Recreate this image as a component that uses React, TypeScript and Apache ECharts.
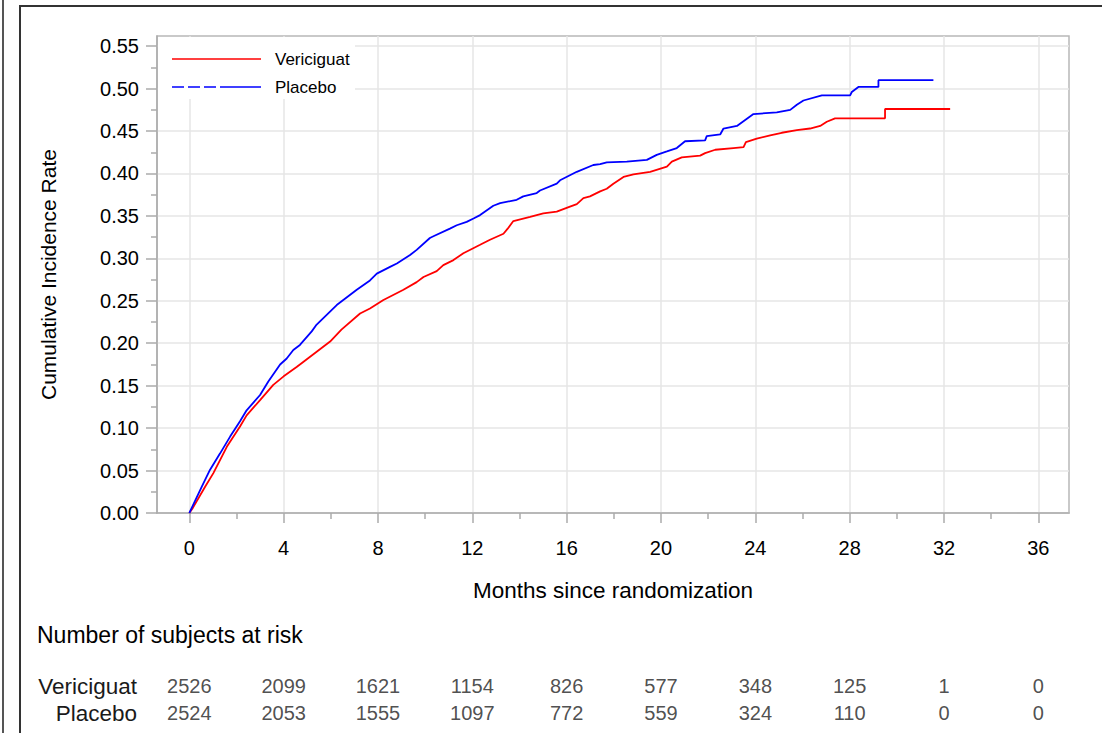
import React, { useEffect, useRef } from "react";
import * as echarts from "echarts";

const FONT = "'Liberation Sans', Arial, Helvetica, sans-serif";

// Axis ticks
const xTicks = [0, 4, 8, 12, 16, 20, 24, 28, 32, 36];
const xMinorTicks = [2, 6, 10, 14, 18, 22, 26, 30, 34];
const yTicks = [0, 0.05, 0.1, 0.15, 0.2, 0.25, 0.3, 0.35, 0.4, 0.45, 0.5, 0.55];
const yMinorTicks = [0.025, 0.075, 0.125, 0.175, 0.225, 0.275, 0.325, 0.375, 0.425, 0.475, 0.525];

// Cumulative incidence curves: [month, rate]
const vericiguatCurve: [number, number][] = [
  [0, 0], [0.15, 0.006], [0.67, 0.031], [1.02, 0.047], [1.59, 0.078], [2.15, 0.102],
  [2.43, 0.115], [3.0, 0.133], [3.56, 0.151], [4.0, 0.161], [4.55, 0.172], [4.83, 0.178],
  [5.4, 0.19], [5.97, 0.202], [6.45, 0.216], [7.24, 0.235], [7.66, 0.241], [8.23, 0.251],
  [9.08, 0.263], [9.64, 0.272], [9.93, 0.278], [10.49, 0.285], [10.77, 0.292], [11.2, 0.298],
  [11.62, 0.306], [12.04, 0.312], [12.33, 0.316], [12.75, 0.322], [13.32, 0.329], [13.5, 0.335],
  [13.74, 0.344], [14.45, 0.349], [15.01, 0.353], [15.58, 0.355], [16.14, 0.361], [16.43, 0.364],
  [16.71, 0.371], [16.99, 0.373], [17.42, 0.379], [17.7, 0.382], [17.98, 0.388], [18.41, 0.396],
  [18.83, 0.399], [19.54, 0.402], [20.25, 0.408], [20.46, 0.414], [20.88, 0.419], [21.66, 0.421],
  [21.87, 0.424], [22.3, 0.428], [23.07, 0.43], [23.5, 0.431], [23.6, 0.437], [24.06, 0.441],
  [24.63, 0.445], [25.12, 0.448], [25.76, 0.451], [26.32, 0.453], [26.75, 0.456], [27.03, 0.461],
  [27.38, 0.465], [29.5, 0.465], [29.5, 0.476], [32.26, 0.476],
];

const placeboCurve: [number, number][] = [
  [0, 0], [0.53, 0.031], [0.88, 0.051], [1.3, 0.07], [1.73, 0.09], [2.15, 0.108],
  [2.43, 0.121], [3.0, 0.139], [3.35, 0.155], [3.85, 0.175], [4.13, 0.182], [4.41, 0.192],
  [4.69, 0.198], [5.19, 0.214], [5.4, 0.222], [6.25, 0.245], [7.1, 0.263], [7.66, 0.274],
  [7.95, 0.282], [8.51, 0.29], [8.8, 0.294], [9.36, 0.304], [9.64, 0.31], [10.2, 0.324],
  [10.35, 0.326], [11.05, 0.335], [11.34, 0.339], [11.76, 0.343], [12.05, 0.347], [12.33, 0.351],
  [12.89, 0.362], [13.18, 0.365], [13.88, 0.369], [14.16, 0.373], [14.73, 0.377], [14.87, 0.38],
  [15.58, 0.388], [15.72, 0.392], [16.43, 0.402], [17.13, 0.41], [17.42, 0.411], [17.7, 0.413],
  [18.55, 0.414], [19.4, 0.416], [19.82, 0.422], [20.25, 0.426], [20.67, 0.43], [21.02, 0.438],
  [21.87, 0.439], [21.94, 0.444], [22.51, 0.446], [22.65, 0.453], [23.22, 0.456], [23.57, 0.463],
  [23.92, 0.47], [24.91, 0.472], [25.48, 0.475], [25.76, 0.481], [26.04, 0.486], [26.82, 0.492],
  [28.02, 0.492], [28.09, 0.496], [28.37, 0.502], [29.22, 0.502], [29.22, 0.51], [31.55, 0.51],
];

// Number at risk table
const riskMonths = [0, 4, 8, 12, 16, 20, 24, 28, 32, 36];
const riskVericiguat = [2526, 2099, 1621, 1154, 826, 577, 348, 125, 1, 0];
const riskPlacebo = [2524, 2053, 1555, 1097, 772, 559, 324, 110, 0, 0];
const riskGroups = ["Placebo", "Vericiguat"];

const X_MIN = -1.37;
const X_MAX = 37.3;
const Y_MIN = 0;
const Y_MAX = 0.562;

const AXIS_GREY = "#ababab";
const GRID_GREY = "#e6e6e6";

export default function App() {
  const ref = useRef<HTMLDivElement>(null);

  useEffect(() => {
    if (!ref.current) return;
    const chart = echarts.init(ref.current, undefined, { renderer: "svg" });

    const plotGrid = { left: 157, top: 36, width: 912, height: 477 };

    const option: any = {
      animation: false,
      backgroundColor: "#ffffff",
      textStyle: { fontFamily: FONT },
      grid: [
        { ...plotGrid, show: true, borderColor: "#b8b8b8", borderWidth: 1.5, backgroundColor: "transparent" },
        { ...plotGrid, show: false },
        { left: 157, top: 672.5, width: 912, height: 54, show: false },
      ],
      xAxis: [
        {
          type: "value",
          gridIndex: 0,
          min: X_MIN,
          max: X_MAX,
          axisLine: { show: true, onZero: false, lineStyle: { color: AXIS_GREY, width: 1.5 } },
          axisTick: { show: true, customValues: xTicks, length: 10, lineStyle: { color: AXIS_GREY, width: 1.5 } },
          axisLabel: { customValues: xTicks, fontSize: 20, color: "#000", margin: 25, fontFamily: FONT },
          splitLine: { show: true, lineStyle: { color: GRID_GREY, width: 1.5 } },
          name: "Months since randomization",
          nameLocation: "middle",
          nameGap: 66,
          nameTextStyle: { fontSize: 22.5, color: "#000", fontFamily: FONT },
        },
        {
          type: "value",
          gridIndex: 1,
          min: X_MIN,
          max: X_MAX,
          axisLine: { show: false, onZero: false },
          axisTick: { show: true, customValues: xMinorTicks, length: 6, lineStyle: { color: AXIS_GREY, width: 1.5 } },
          axisLabel: { show: false },
          splitLine: { show: false },
        },
        {
          type: "value",
          gridIndex: 2,
          min: X_MIN,
          max: X_MAX,
          show: false,
        },
      ],
      yAxis: [
        {
          type: "value",
          gridIndex: 0,
          min: Y_MIN,
          max: Y_MAX,
          axisLine: { show: true, onZero: false, lineStyle: { color: AXIS_GREY, width: 1.5 } },
          axisTick: { show: true, customValues: yTicks, length: 11, lineStyle: { color: AXIS_GREY, width: 1.5 } },
          axisLabel: {
            customValues: yTicks,
            fontSize: 20,
            color: "#000",
            margin: 18,
            fontFamily: FONT,
            formatter: (v: number) => v.toFixed(2),
          },
          splitLine: { show: true, lineStyle: { color: GRID_GREY, width: 1.5 } },
          name: "Cumulative Incidence Rate",
          nameLocation: "middle",
          nameGap: 98,
          nameTextStyle: { fontSize: 21, color: "#000", fontFamily: FONT },
        },
        {
          type: "value",
          gridIndex: 1,
          min: Y_MIN,
          max: Y_MAX,
          axisLine: { show: false, onZero: false },
          axisTick: { show: true, customValues: yMinorTicks, length: 6, lineStyle: { color: AXIS_GREY, width: 1.5 } },
          axisLabel: { show: false },
          splitLine: { show: false },
        },
        {
          type: "category",
          gridIndex: 2,
          data: riskGroups,
          axisLine: { show: false },
          axisTick: { show: false },
          splitLine: { show: false },
          axisLabel: { interval: 0, hideOverlap: false, fontSize: 22.5, color: "#1a1a1a", margin: 20, fontFamily: FONT },
        },
      ],
      series: [
        {
          name: "Vericiguat",
          type: "line",
          xAxisIndex: 0,
          yAxisIndex: 0,
          data: vericiguatCurve,
          showSymbol: false,
          symbol: "none",
          lineStyle: { color: "#ff0000", width: 1.8 },
          z: 3,
        },
        {
          name: "Placebo",
          type: "line",
          xAxisIndex: 0,
          yAxisIndex: 0,
          data: placeboCurve,
          showSymbol: false,
          symbol: "none",
          lineStyle: { color: "#0000ff", width: 1.8 },
          z: 4,
        },
        {
          name: "riskV",
          type: "scatter",
          xAxisIndex: 2,
          yAxisIndex: 2,
          symbolSize: 1,
          itemStyle: { color: "rgba(0,0,0,0)" },
          data: riskMonths.map((m, i) => [m, "Vericiguat", riskVericiguat[i]]),
          label: {
            show: true,
            position: "inside",
            formatter: (p: any) => String(p.value[2]),
            fontSize: 20,
            color: "#222",
            fontFamily: FONT,
          },
        },
        {
          name: "riskP",
          type: "scatter",
          xAxisIndex: 2,
          yAxisIndex: 2,
          symbolSize: 1,
          itemStyle: { color: "rgba(0,0,0,0)" },
          data: riskMonths.map((m, i) => [m, "Placebo", riskPlacebo[i]]),
          label: {
            show: true,
            position: "inside",
            formatter: (p: any) => String(p.value[2]),
            fontSize: 20,
            color: "#222",
            fontFamily: FONT,
          },
        },
      ],
      graphic: [
        { type: "line", z: 100, shape: { x1: 3, y1: 0, x2: 3, y2: 733 }, style: { stroke: "#555", lineWidth: 2 } },
        { type: "rect", z: 100, shape: { x: 20, y: 6, width: 1110, height: 800 }, style: { fill: "none", stroke: "#333", lineWidth: 2 } },
        { type: "rect", z: 100, shape: { x: 158, y: 37, width: 197, height: 62 }, style: { fill: "#ffffff" } },
        { type: "line", z: 101, shape: { x1: 172, y1: 59, x2: 261, y2: 59 }, style: { stroke: "#ff0000", lineWidth: 1.5 } },
        { type: "line", z: 101, shape: { x1: 172, y1: 87, x2: 222, y2: 87 }, style: { stroke: "#0000ff", lineWidth: 1.5, lineDash: [12, 4] } },
        { type: "line", z: 101, shape: { x1: 222, y1: 87, x2: 261, y2: 87 }, style: { stroke: "#0000ff", lineWidth: 1.5 } },
        { type: "text", z: 101, x: 275, y: 59, style: { text: "Vericiguat", fontSize: 17, fill: "#000", fontFamily: FONT, verticalAlign: "middle", align: "left" } },
        { type: "text", z: 101, x: 275, y: 87, style: { text: "Placebo", fontSize: 17, fill: "#000", fontFamily: FONT, verticalAlign: "middle", align: "left" } },
        { type: "text", z: 101, x: 37, y: 635, style: { text: "Number of subjects at risk", fontSize: 23, fill: "#000", fontFamily: FONT, verticalAlign: "middle", align: "left" } },
      ],
    };

    chart.setOption(option);
    return () => chart.dispose();
  }, []);

  return (
    <div
      ref={ref}
      style={{ position: "absolute", left: 0, top: 0, width: 1102, height: 733, background: "#fff" }}
    />
  );
}
